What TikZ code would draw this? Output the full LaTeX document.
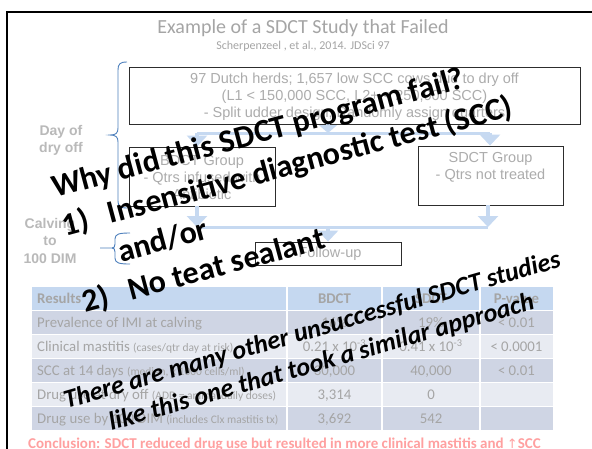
\documentclass[tikz,border=0pt]{standalone}
\usepackage{fontspec}
\setmainfont{Carlito}
\newfontfamily\arialfam{Liberation Sans}
\newfontfamily\dejavufam{DejaVu Sans}
\usetikzlibrary{arrows.meta}

\definecolor{titlegray}{RGB}{165,165,165}
\definecolor{boxgray}{RGB}{172,172,172}
\definecolor{sidegray}{RGB}{185,185,185}
\definecolor{tabgray}{RGB}{165,165,165}
\definecolor{boxline}{RGB}{45,45,45}
\definecolor{braceblue}{RGB}{79,129,189}
\definecolor{flowblue}{RGB}{198,217,241}
\definecolor{hdrfill}{RGB}{197,216,240}
\definecolor{rowdark}{RGB}{207,213,228}
\definecolor{rowlight}{RGB}{232,235,242}
\definecolor{concl}{RGB}{255,160,160}

\tikzset{
  stepbox/.style={draw=boxline, line width=0.9pt, inner sep=0pt},
  boxtxt/.style={font=\arialfam\fontsize{14.5}{17}\selectfont, text=boxgray, align=center, inner sep=0pt},
  sidelbl/.style={font=\arialfam\bfseries\fontsize{14}{17.5}\selectfont, text=sidegray, align=center, inner sep=0pt},
  bracepath/.style={draw=braceblue, line width=0.9pt},
  flowline/.style={draw=flowblue, line width=3pt},
  flowarrow/.style={draw=flowblue, line width=4.5pt, -{Triangle[width=20pt,length=11pt]}},
  cell/.style={font=\fontsize{14.8}{17}\selectfont, text=tabgray, inner sep=0pt},
  hcell/.style={cell, font=\bfseries\fontsize{14.8}{17}\selectfont},
  bigq/.style={font=\bfseries\fontsize{32}{38}\selectfont, text=black, inner sep=0pt},
  bigi/.style={font=\bfseries\itshape\fontsize{26}{33.5}\selectfont, text=black, inner sep=0pt, align=center},
}

\begin{document}
\begin{tikzpicture}[x=1pt,y=-1pt]
\useasboundingbox (0,0) rectangle (592,448);
\clip (0,0) rectangle (592,448);
\fill[white] (0,0) rectangle (592,448);

% slide frame
\draw[line width=2.6pt] (7,12) rectangle (640,480);

% title and reference
\node[font=\fontsize{20}{24}\selectfont, text=titlegray, inner sep=0pt] (title) at (303,28) {Example of a SDCT Study that Failed};
\node[font=\fontsize{12}{14}\selectfont, text=titlegray, inner sep=0pt] (ref) at (303,46) {Scherpenzeel , et al., 2014. JDSci 97};

% study design boxes
\node[stepbox, minimum width=451pt, minimum height=57pt] (top) at (354.5,95.5) {};
\node[boxtxt] (toptxt) at (354.5,96.5) {97 Dutch herds; 1,657 low SCC cows due to dry off\\(L1 < 150,000 SCC, L2+ < 250,000 SCC)\\- Split udder design; Randomly assign quarters};

\node[stepbox, minimum width=146pt, minimum height=59pt] (bd) at (202,176.5) {};
\node[boxtxt] (bdtxt) at (202,178) {BDCT Group\\- Qtrs infused with\\Antibiotic};

\node[stepbox, minimum width=145pt, minimum height=59pt] (sd) at (490.5,175.5) {};
\node[boxtxt] (sdtxt) at (490.5,167) {SDCT Group\\- Qtrs not treated};

\node[stepbox, minimum width=146pt, minimum height=23pt] (fu) at (328,253.5) {};
\node[boxtxt] (futxt) at (330,254) {Follow-up};

% flow connectors
\coordinate (uL) at (197,133);
\coordinate (uR) at (490,133);
\coordinate (uM) at (328,133);
\coordinate (lL) at (197,227);
\coordinate (lR) at (488,227);
\coordinate (lM) at (328,227);
\draw[flowline] (uL) -- (uR);
\draw[flowarrow, -{Triangle[width=18pt,length=8pt]}] (top.south -| uM) -- (uM);
\draw[flowarrow] (uL) -- (bd.north -| uL);
\draw[flowarrow] (uR) -- (sd.north -| uR);
\draw[flowarrow] (bd.south -| lL) -- (lL);
\draw[flowarrow] (sd.south -| lR) -- (lR);
\draw[flowline] (lL) -- (lR);
\draw[flowarrow] (lM) -- (fu.north -| lM);

% period braces and labels
\node[sidelbl] (dry) at (61,140.5) {Day of\\dry off};
\node[sidelbl] (calv) at (50,240.5) {Calving\\to\\100 DIM};
\coordinate (tipA) at (110,135);
\coordinate (tipB) at (100,248);
\draw[bracepath] (127,62) .. controls (120,62) and (118,64) .. (118,70) -- (118,128)
  .. controls (118,133) and (116,135) .. (tipA)
  .. controls (116,135) and (118,137) .. (118,142) -- (118,201)
  .. controls (118,206) and (120,208) .. (127,208);
\draw[bracepath] (130,233) .. controls (119,233) and (115,234) .. (115,239) -- (115,244)
  .. controls (115,247) and (114,248) .. (112,248) -- (tipB);
\draw[bracepath] (112,248) .. controls (114,248) and (115,249) .. (115,252) -- (115,258)
  .. controls (115,263) and (119,264) .. (130,264);

% results table
\foreach \r/\f in {0/hdrfill,1/rowdark,2/rowlight,3/rowdark,4/rowlight,5/rowdark}{
  \fill[\f] (32,287+24*\r) rectangle (553,309.5+24*\r);
}
\foreach \cx in {287,382,480}{
  \draw[white, line width=2pt] (\cx,285) -- (\cx,432);
}

\node[hcell, anchor=base west] (h1) at (37,303) {Results};
\node[hcell, anchor=base] (h2) at (334.5,303) {BDCT};
\node[hcell, anchor=base] (h3) at (431,303) {SDCT};
\node[hcell, anchor=base] (h4) at (516.5,303) {P-value};

\node[cell, anchor=base west] (a1) at (37,327.5) {Prevalence of IMI at calving};
\node[cell, anchor=base west] (a2) at (37,351.5) {Clinical mastitis {\fontsize{11.5}{13}\selectfont (cases/qtr day at risk)}};
\node[cell, anchor=base west] (a3) at (37,375.5) {SCC at 14 days {\fontsize{11.5}{13}\selectfont (median, x 1000 cells/ml)}};
\node[cell, anchor=base west] (a4) at (37,399.5) {Drug use at dry off {\fontsize{11.5}{13}\selectfont (ADD = animal daily doses)}};
\node[cell, anchor=base west] (a5) at (37,423.5) {Drug use by 100 DIM {\fontsize{11.5}{13}\selectfont (includes Clx mastitis tx)}};

\node[cell, anchor=base] (b1) at (334.5,327.5) {16\%};
\node[cell, anchor=base] (c1) at (431,327.5) {19\%};
\node[cell, anchor=base] (d1) at (516.5,327.5) {< 0.01};
\node[cell, anchor=base] (b2) at (334.5,351.5) {0.21 x 10\textsuperscript{-3}};
\node[cell, anchor=base] (c2) at (431,351.5) {0.41 x 10\textsuperscript{-3}};
\node[cell, anchor=base] (d2) at (516.5,351.5) {< 0.0001};
\node[cell, anchor=base] (b3) at (334.5,375.5) {30,000};
\node[cell, anchor=base] (c3) at (431,375.5) {40,000};
\node[cell, anchor=base] (d3) at (516.5,375.5) {< 0.01};
\node[cell, anchor=base] (b4) at (334.5,399.5) {3,314};
\node[cell, anchor=base] (c4) at (431,399.5) {0};
\node[cell, anchor=base] (b5) at (334.5,423.5) {3,692};
\node[cell, anchor=base] (c5) at (431,423.5) {542};

% conclusion
\node[font=\bfseries\fontsize{15}{18}\selectfont, text=concl, inner sep=0pt, anchor=base west] (con) at (28,448)
  {Conclusion: SDCT reduced drug use but resulted in more clinical mastitis and {\dejavufam\mdseries\fontsize{13}{15}\selectfont ↑}SCC};

% overlaid questions
\begin{scope}[shift={(55,198)}, rotate=15, transform shape]
  \node[bigq, anchor=base west] (q1) at (0,0) {Why did this SDCT program fail?};
  \node[bigq, anchor=base west] (q2) at (0,39.5) {\makebox[47pt][l]{1)}Insensitive diagnostic test (SCC)};
  \node[bigq, anchor=base west] (q3) at (47,79) {and/or};
  \node[bigq, anchor=base west] (q4) at (0,118.5) {\makebox[47pt][l]{2)}No teat sealant};
\end{scope}
\begin{scope}[shift={(317,347)}, rotate=16, transform shape]
  \node[bigi] (note) at (0,0) {There are many other unsuccessful SDCT studies\\like this one that took a similar approach};
\end{scope}
\end{tikzpicture}
\end{document}
